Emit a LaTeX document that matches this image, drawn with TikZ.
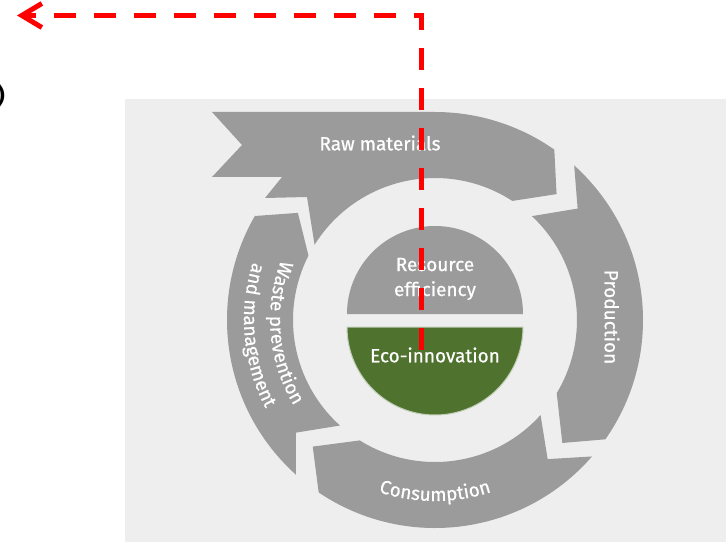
\documentclass[tikz,border=0pt]{standalone}
\usepackage{fontspec}
\setmainfont{Fira Sans}
\newfontfamily\segfont{Fira Sans}[FakeBold=0.6]
\usepackage{xcolor}
\usetikzlibrary{arrows.meta}
\usetikzlibrary{decorations.text}
\tikzset{>={Straight Barb[length=20pt,width=24pt]}}
\definecolor{panelgray}{HTML}{EEEEEE}
\definecolor{ringgray}{HTML}{9B9B9B}
\definecolor{ecogreen}{HTML}{4F732F}
\tikzstyle{ringseg}=[fill=ringgray]
\tikzstyle{seglabel}=[text=white,font=\segfont\fontsize{19}{25}\selectfont]

\begin{document}
\begin{tikzpicture}[x=1pt,y=1pt]

  % canvas
  \useasboundingbox (0,0) rectangle (726,542);
  \fill[panelgray] (125,0) rectangle (726,443);

  % glyph cut by the left edge
  \node[font=\fontsize{22}{22}\selectfont\bfseries,anchor=east,inner sep=0pt]
    (edge) at (5,446) {)};

  % ring variables
  \def\rin{142pt}
  \def\rout{208pt}

  \begin{scope}[shift={(435,222)}]

    % raw materials
    \fill[ringseg]
      (-223,208) -- (90:\rout) arc (90:55:\rout) -- (46:175pt) -- (57:\rin)
      arc (57:148:\rin) -- (-128,123) -- (-170,122) -- (-153,143)
      -- (-223,143) -- (-193,175) -- cycle;

    % production
    \fill[ringseg]
      (48:\rout) arc (48:-35:\rout) -- (-44:177pt) -- (-31:\rin)
      arc (-31:47:\rin) -- (38:181pt) -- cycle;

    % consumption
    \fill[ringseg]
      (-42:\rin) -- (-51:179pt) -- (-41:\rout) arc (-41:-124:\rout)
      -- (-134:176pt) -- (-122:\rin) arc (-122:-42:\rin) -- cycle;

    % waste prevention and management
    \fill[ringseg]
      (228:\rout) -- (219:179pt) -- (228:\rin) arc (228:153:\rin)
      -- (142:174pt) -- (150:\rout) arc (150:228:\rout) -- cycle;

    % ring labels
    \node[seglabel] (raw) at (-55,177) {Raw materials};
    \node[seglabel,rotate=-90] (prod) at (177,3) {Production};
    \path[decorate,decoration={text along path,text align=center,text color=white,
      text={|\segfont\fontsize{19}{19}\selectfont|Consumption}}]
      (-125:181pt) arc (-125:-55:181pt);
    \path[decorate,decoration={text along path,text align=center,text color=white,
      text={|\segfont\fontsize{19}{19}\selectfont|Waste prevention}}]
      (130:165pt) arc (130:240:165pt);
    \path[decorate,decoration={text along path,text align=center,text color=white,
      text={|\segfont\fontsize{19}{19}\selectfont|and management}}]
      (130:191pt) arc (130:240:191pt);

    % centre disc
    \fill[ringseg]
      (88,6) arc (0:180:88pt) -- cycle;
    \filldraw[fill=ecogreen,draw=ecogreen!35!white,line width=1pt]
      (-88,-7) arc (180:360:88pt) -- cycle;
    \node[seglabel,align=center] (res) at (0,41) {Resource\\efficiency};
    \node[seglabel] (eco) at (0,-35) {Eco-innovation};

  \end{scope}

  % red loop arrow
  \coordinate (loopstart) at (421,192);
  \coordinate (loopend) at (17,526.5);
  \draw[red,line width=5pt,dash pattern=on 22pt off 18pt,->]
    (loopstart) |- (loopend);

\end{tikzpicture}
\end{document}
